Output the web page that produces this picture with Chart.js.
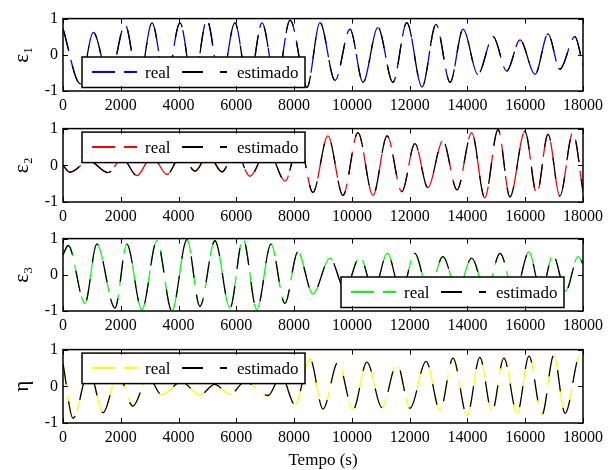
<!DOCTYPE html>
<html><head><meta charset="utf-8">
<script src="https://cdn.jsdelivr.net/npm/chart.js@4/dist/chart.umd.min.js"></script>
<style>
html,body{margin:0;padding:0;background:#fff;width:616px;height:470px;overflow:hidden}
.p{position:absolute;left:0;width:616px}
canvas{display:block}
</style></head><body>
<div class="p" style="top:4px;height:110px"><canvas id="c1" width="616" height="110"></canvas></div>
<div class="p" style="top:114px;height:110px"><canvas id="c2" width="616" height="110"></canvas></div>
<div class="p" style="top:224px;height:110px"><canvas id="c3" width="616" height="110"></canvas></div>
<div class="p" style="top:335px;height:135px"><canvas id="c4" width="616" height="135"></canvas></div>
<script>
// ---- data (extrema of each oscillation) ----
const xTicks = [0,2000,4000,6000,8000,10000,12000,14000,16000,18000];
const yTicks = [-1,0,1];
const seriesNames = ['real','estimado'];
const panelLabels = ['ε₁','ε₂','ε₃','η'];
const xTitle = 'Tempo (s)';

const t1 = [0,600,1050,1600,2150,2620,3080,3560,4050,4510,4980,5460,5950,6420,6890,7380,7860,8446,8896,9415,9935,10385,10900,11420,11900,12430,12910,13400,13850,14360,14890,15360,15820,16340,16790,17200,17720,18000];
const eps1 = [0.72,-0.8,0.62,-0.7,0.83,-0.8,0.88,-0.8,0.88,-0.85,0.96,-0.85,0.88,-0.9,0.88,-0.85,0.96,-0.9,0.89,-0.71,0.71,-0.76,0.76,-0.76,0.89,-0.89,0.84,-0.76,0.71,-0.54,0.5,-0.45,0.41,-0.54,0.58,-0.4,0.5,-0.3];

const t2 = [0,240,900,1560,2060,2560,3080,3600,4100,4570,5030,5500,5980,6470,7080,7690,8170,8650,9170,9690,10210,10730,11220,11730,12180,12630,13150,13640,14150,14600,15060,15470,15990,16400,16790,17200,17650,18000];
const eps2 = [0,-0.19,0.12,-0.2,0.18,-0.28,0.25,-0.25,0.3,-0.16,0.3,-0.18,0.4,-0.3,0.45,-0.43,0.65,-0.74,0.8,-0.82,0.89,-0.82,0.8,-0.72,0.59,-0.61,0.67,-0.67,0.89,-0.89,0.97,-0.86,0.93,-0.78,0.85,-0.84,0.89,-0.7];

const t3 = [0,180,760,1170,1800,2210,2730,3250,3770,4290,4740,5260,5780,6230,6710,7200,7680,8130,8650,9240,9760,10280,10750,11230,11700,12180,12660,13150,13650,14150,14640,15130,15630,16130,16550,16960,17400,17830,18000];
const eps3 = [0.55,0.81,-0.79,0.85,-0.92,0.85,-0.97,0.94,-1.0,0.97,-0.87,0.94,-0.92,1.0,-0.96,0.85,-0.79,0.63,-0.53,0.46,-0.4,0.5,-0.45,0.59,-0.5,0.59,-0.5,0.5,-0.45,0.46,-0.5,0.59,-0.55,0.63,-0.5,0.55,-0.45,0.5,0.3];

const t4 = [0,350,900,1390,1900,2420,2950,3420,4100,4740,5250,5780,6300,7100,7550,8030,8550,9000,9520,10040,10520,11040,11560,12010,12570,13050,13500,13990,14430,14850,15260,15720,16130,16580,16990,17380,17900,18000];
const eta = [0.62,-0.87,0.45,-0.72,0.35,-0.54,0.25,-0.23,0.12,-0.24,0.05,-0.22,0.12,-0.25,0.3,-0.5,0.75,-0.62,0.66,-0.64,0.66,-0.58,0.62,-0.6,0.68,-0.66,0.77,-0.8,0.79,-0.7,0.77,-0.74,0.82,-0.78,0.85,-0.74,0.85,0.7];

const realColors = ['#0000ff','#ff0000','#00ff00','#ffff00'];

// ---- plugins ----
const FONT = '"Liberation Serif", "Times New Roman", serif';
const framePlugin = {
  id: 'frame',
  afterDraw(chart) {
    const {ctx, chartArea: a, scales} = chart;
    ctx.save();
    ctx.strokeStyle = '#000';
    ctx.lineWidth = 1;
    const tl = 5;
    ctx.beginPath();
    scales.x.ticks.forEach(t => {
      const px = Math.round(scales.x.getPixelForValue(t.value)) + 0.5;
      ctx.moveTo(px, a.bottom); ctx.lineTo(px, a.bottom - tl);
      ctx.moveTo(px, a.top); ctx.lineTo(px, a.top + tl);
    });
    scales.y.ticks.forEach(t => {
      const py = Math.round(scales.y.getPixelForValue(t.value)) + 0.5;
      ctx.moveTo(a.left, py); ctx.lineTo(a.left + tl, py);
      ctx.moveTo(a.right, py); ctx.lineTo(a.right - tl, py);
    });
    ctx.stroke();
    ctx.lineWidth = 1.5;
    ctx.strokeRect(a.left, a.top, a.right - a.left, a.bottom - a.top);
    ctx.restore();
  }
};
const boxLegend = {
  id: 'boxLegend',
  afterDatasetsDraw(chart, args, opts) {
    const {ctx, chartArea: a} = chart;
    const w = 223, h = 30.5;
    const x0 = opts.side === 'right' ? a.right - 19 - w : a.left + 19;
    const y0 = opts.vert === 'bottom' ? a.bottom - 3.5 - h : a.top + 3.5;
    ctx.save();
    ctx.fillStyle = '#fff';
    ctx.fillRect(x0, y0, w, h);
    ctx.strokeStyle = '#000';
    ctx.lineWidth = 1.5;
    ctx.strokeRect(x0, y0, w, h);
    const items = [{dx: 10, tx: 63}, {dx: 100, tx: 155}];
    const sy = Math.round(y0 + 14.5);
    chart.data.datasets.forEach((ds, i) => {
      const it = items[i];
      ctx.beginPath();
      ctx.setLineDash(ds.borderDash);
      ctx.strokeStyle = ds.borderColor;
      ctx.lineWidth = 2;
      ctx.moveTo(x0 + it.dx, sy);
      ctx.lineTo(x0 + it.dx + 45, sy);
      ctx.stroke();
      ctx.setLineDash([]);
      ctx.fillStyle = '#000';
      ctx.font = '17px ' + FONT;
      ctx.textBaseline = 'alphabetic';
      ctx.textAlign = 'left';
      ctx.fillText(ds.label, x0 + it.tx, y0 + 21);
    });
    ctx.restore();
  }
};

function makePanel(id, t, v, idx, legendPos, xAxisH, showXTitle) {
  const pts = t.map((x, i) => ({x: x, y: v[i]}));
  return new Chart(document.getElementById(id), {
    type: 'line',
    data: {
      datasets: [
        {label: seriesNames[0], data: pts, borderColor: realColors[idx], borderDash: [23, 9], borderWidth: 1.3,
         pointRadius: 0, fill: false, cubicInterpolationMode: 'monotone', order: 1},
        {label: seriesNames[1], data: pts, borderColor: '#000000', borderDash: [21, 17], borderWidth: 1.3,
         pointRadius: 0, fill: false, cubicInterpolationMode: 'monotone', order: 0}
      ]
    },
    options: {
      responsive: false, animation: false, events: [],
      layout: {padding: {top: 10, right: 33, left: 0, bottom: 0}},
      plugins: {legend: {display: false}, tooltip: {enabled: false}, boxLegend: legendPos},
      scales: {
        x: {
          type: 'linear', min: 0, max: 18000,
          afterBuildTicks: s => { s.ticks = xTicks.map(val => ({value: val})); },
          afterFit: s => { s.height = xAxisH; },
          ticks: {color: '#000', font: {family: FONT, size: 16}, padding: 5, maxRotation: 0, autoSkip: false,
                  callback: val => String(val)},
          grid: {display: false, drawTicks: false},
          border: {display: false},
          title: {display: showXTitle, text: xTitle, color: '#000', font: {family: FONT, size: 17}, padding: {top: 0, bottom: -1}}
        },
        y: {
          type: 'linear', min: -1, max: 1,
          afterBuildTicks: s => { s.ticks = yTicks.map(val => ({value: val})); },
          afterFit: s => { s.width = 63; },
          ticks: {color: '#000', font: {family: FONT, size: 16}, padding: 5, callback: val => String(val)},
          grid: {display: false, drawTicks: false},
          border: {display: false},
          title: {display: true, text: panelLabels[idx], color: '#000', font: {family: FONT, size: 21}, padding: {top: 10, bottom: 0}}
        }
      }
    },
    plugins: [boxLegend, framePlugin]
  });
}

makePanel('c1', t1, eps1, 0, {side: 'left', vert: 'bottom'}, 23, false);
makePanel('c2', t2, eps2, 1, {side: 'left', vert: 'top'}, 22, false);
makePanel('c3', t3, eps3, 2, {side: 'right', vert: 'bottom'}, 23, false);
makePanel('c4', t4, eta, 3, {side: 'left', vert: 'top'}, 47, true);
</script>
</body></html>
